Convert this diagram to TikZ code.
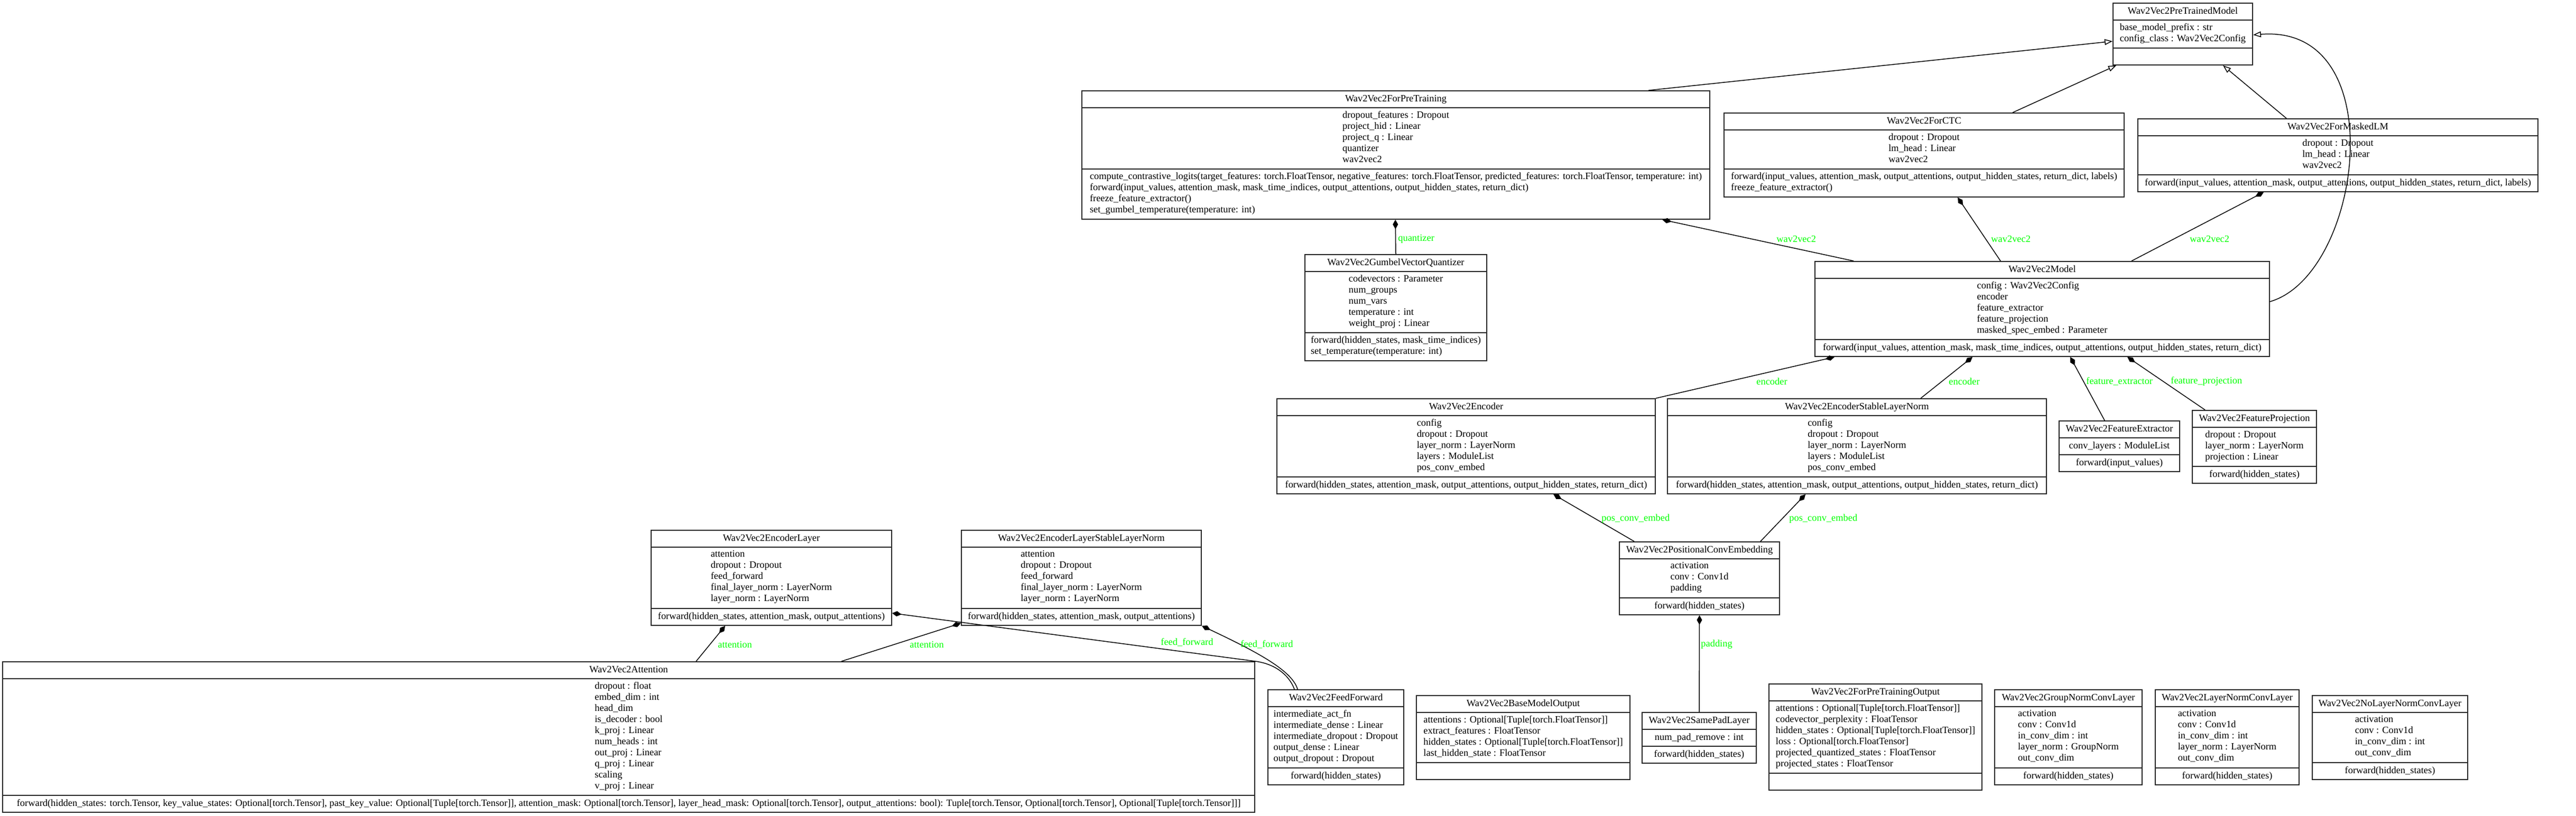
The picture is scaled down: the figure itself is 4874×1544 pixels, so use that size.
\documentclass[tikz,border=0pt]{standalone}
\usepackage{fontspec}
\setmainfont{Liberation Serif}
\usetikzlibrary{arrows.meta,calc,fit}
\definecolor{lblgreen}{RGB}{0,255,0}
\newcommand\cfont{\fontsize{9.2}{10.5}\selectfont}
\tikzset{
 clsbox/.style={draw=black!85, line width=0.9pt, fill=white, inner sep=0pt},
 sepline/.style={draw=black!85, line width=0.9pt},
 ctext/.style={font=\cfont, align=left, inner sep=0pt, execute at begin node=\strut, execute at end node=\strut},
 elabel/.style={font=\cfont, text=lblgreen, inner sep=0pt, anchor=west},
 conn/.style={draw=black, line width=0.75pt},
 inherit/.style={conn, -{Triangle[open, length=7.5pt, width=5.5pt]}},
 compose/.style={conn, {Diamond[length=9pt, width=5pt]}-},
}
\newcommand\umlclass[9]{%
 \pgfmathsetmacro\uha{ifthenelse(#5==0,32,21*#5+11)}%
 \pgfmathsetmacro\uhm{ifthenelse(#6==0,32,21*#6+11)}%
 \pgfmathsetmacro\uya{#3+32}%
 \pgfmathsetmacro\uym{#3+32+\uha}%
 \pgfmathsetmacro\uyb{\uym+\uhm}%
 \pgfmathsetmacro\uxc{(#2+#4)/2}%
 \pgfmathsetmacro\uyt{#3+16}%
 \pgfmathsetmacro\uyac{(\uya+\uym)/2}%
 \pgfmathsetmacro\uymc{(\uym+\uyb)/2}%
 \coordinate (#1-nw) at (#2,#3);
 \coordinate (#1-se) at (#4,\uyb);
 \node[clsbox, fit=(#1-nw)(#1-se)] (#1) {};
 \draw[sepline] (#2,\uya) -- (#4,\uya);
 \draw[sepline] (#2,\uym) -- (#4,\uym);
 \node[ctext] (#1-t) at (\uxc,\uyt) {#7};
 \node[ctext] (#1-a) at (\uxc,\uyac) {#8};
 \node[ctext] (#1-m) at (\uxc,\uymc) {#9};
}
\begin{document}
\begin{tikzpicture}[x=0.5pt,y=-0.5pt]
\fill[white] (0,0) rectangle (4874,1544);
\useasboundingbox (0,0) rectangle (4874,1544);

\umlclass{ptm}{3998}{6}{4262}{2}{0}{Wav2Vec2PreTrainedModel}{base\_model\_prefix : str\\config\_class : Wav2Vec2Config}{}

\umlclass{fpt}{2047}{172}{3235}{5}{4}{Wav2Vec2ForPreTraining}{dropout\_features : Dropout\\project\_hid : Linear\\project\_q : Linear\\quantizer\\wav2vec2}{compute\_contrastive\_logits(target\_features: torch.FloatTensor, negative\_features: torch.FloatTensor, predicted\_features: torch.FloatTensor, temperature: int)\\forward(input\_values, attention\_mask, mask\_time\_indices, output\_attentions, output\_hidden\_states, return\_dict)\\freeze\_feature\_extractor()\\set\_gumbel\_temperature(temperature: int)}

\umlclass{ctc}{3262}{214}{4019}{3}{2}{Wav2Vec2ForCTC}{dropout : Dropout\\lm\_head : Linear\\wav2vec2}{forward(input\_values, attention\_mask, output\_attentions, output\_hidden\_states, return\_dict, labels)\\freeze\_feature\_extractor()}

\umlclass{mlm}{4045}{225}{4802}{3}{1}{Wav2Vec2ForMaskedLM}{dropout : Dropout\\lm\_head : Linear\\wav2vec2}{forward(input\_values, attention\_mask, output\_attentions, output\_hidden\_states, return\_dict, labels)}

\umlclass{gvq}{2469}{482}{2813}{5}{2}{Wav2Vec2GumbelVectorQuantizer}{codevectors : Parameter\\num\_groups\\num\_vars\\temperature : int\\weight\_proj : Linear}{forward(hidden\_states, mask\_time\_indices)\\set\_temperature(temperature: int)}

\umlclass{mdl}{3434}{495}{4294}{5}{1}{Wav2Vec2Model}{config : Wav2Vec2Config\\encoder\\feature\_extractor\\feature\_projection\\masked\_spec\_embed : Parameter}{forward(input\_values, attention\_mask, mask\_time\_indices, output\_attentions, output\_hidden\_states, return\_dict)}

\umlclass{enc}{2416}{755}{3132}{5}{1}{Wav2Vec2Encoder}{config\\dropout : Dropout\\layer\_norm : LayerNorm\\layers : ModuleList\\pos\_conv\_embed}{forward(hidden\_states, attention\_mask, output\_attentions, output\_hidden\_states, return\_dict)}

\umlclass{ens}{3155}{755}{3872}{5}{1}{Wav2Vec2EncoderStableLayerNorm}{config\\dropout : Dropout\\layer\_norm : LayerNorm\\layers : ModuleList\\pos\_conv\_embed}{forward(hidden\_states, attention\_mask, output\_attentions, output\_hidden\_states, return\_dict)}

\umlclass{fex}{3896}{797}{4124}{1}{1}{Wav2Vec2FeatureExtractor}{conv\_layers : ModuleList}{forward(input\_values)}

\umlclass{fpj}{4148}{777}{4383}{3}{1}{Wav2Vec2FeatureProjection}{dropout : Dropout\\layer\_norm : LayerNorm\\projection : Linear}{forward(hidden\_states)}

\umlclass{enl}{1232}{1004}{1687}{5}{1}{Wav2Vec2EncoderLayer}{attention\\dropout : Dropout\\feed\_forward\\final\_layer\_norm : LayerNorm\\layer\_norm : LayerNorm}{forward(hidden\_states, attention\_mask, output\_attentions)}

\umlclass{els}{1819}{1004}{2273}{5}{1}{Wav2Vec2EncoderLayerStableLayerNorm}{attention\\dropout : Dropout\\feed\_forward\\final\_layer\_norm : LayerNorm\\layer\_norm : LayerNorm}{forward(hidden\_states, attention\_mask, output\_attentions)}

\umlclass{pce}{3064}{1026}{3367}{3}{1}{Wav2Vec2PositionalConvEmbedding}{activation\\conv : Conv1d\\padding}{forward(hidden\_states)}

\umlclass{att}{5}{1253}{2374}{10}{1}{Wav2Vec2Attention}{dropout : float\\embed\_dim : int\\head\_dim\\is\_decoder : bool\\k\_proj : Linear\\num\_heads : int\\out\_proj : Linear\\q\_proj : Linear\\scaling\\v\_proj : Linear}{forward(hidden\_states: torch.Tensor, key\_value\_states: Optional[torch.Tensor], past\_key\_value: Optional[Tuple[torch.Tensor]], attention\_mask: Optional[torch.Tensor], layer\_head\_mask: Optional[torch.Tensor], output\_attentions: bool): Tuple[torch.Tensor, Optional[torch.Tensor], Optional[Tuple[torch.Tensor]]]}

\umlclass{ffw}{2399}{1306}{2656}{5}{1}{Wav2Vec2FeedForward}{intermediate\_act\_fn\\intermediate\_dense : Linear\\intermediate\_dropout : Dropout\\output\_dense : Linear\\output\_dropout : Dropout}{forward(hidden\_states)}

\umlclass{bmo}{2680}{1317}{3084}{4}{0}{Wav2Vec2BaseModelOutput}{attentions : Optional[Tuple[torch.FloatTensor]]\\extract\_features : FloatTensor\\hidden\_states : Optional[Tuple[torch.FloatTensor]]\\last\_hidden\_state : FloatTensor}{}

\umlclass{spl}{3107}{1349}{3323}{1}{1}{Wav2Vec2SamePadLayer}{num\_pad\_remove : int}{forward(hidden\_states)}

\umlclass{pto}{3347}{1295}{3750}{6}{0}{Wav2Vec2ForPreTrainingOutput}{attentions : Optional[Tuple[torch.FloatTensor]]\\codevector\_perplexity : FloatTensor\\hidden\_states : Optional[Tuple[torch.FloatTensor]]\\loss : Optional[torch.FloatTensor]\\projected\_quantized\_states : FloatTensor\\projected\_states : FloatTensor}{}

\umlclass{gnc}{3774}{1306}{4053}{5}{1}{Wav2Vec2GroupNormConvLayer}{activation\\conv : Conv1d\\in\_conv\_dim : int\\layer\_norm : GroupNorm\\out\_conv\_dim}{forward(hidden\_states)}

\umlclass{lnc}{4078}{1306}{4350}{5}{1}{Wav2Vec2LayerNormConvLayer}{activation\\conv : Conv1d\\in\_conv\_dim : int\\layer\_norm : LayerNorm\\out\_conv\_dim}{forward(hidden\_states)}

\umlclass{nlc}{4375}{1317}{4669}{4}{1}{Wav2Vec2NoLayerNormConvLayer}{activation\\conv : Conv1d\\in\_conv\_dim : int\\out\_conv\_dim}{forward(hidden\_states)}

% inheritance
\draw[inherit] ($(fpt.north west)+(1073,0)$) -- ($(ptm.north west)+(0,73)$);
\draw[inherit] ($(ctc.north west)+(547,0)$) -- ($(ptm.south west)+(7,0)$);
\draw[inherit] ($(mlm.north west)+(282,0)$) -- ($(ptm.south west)+(209,0)$);
\draw[inherit] ($(mdl.north east)+(0,77)$) .. controls (4470,520) and (4530,45) .. ($(ptm.north east)+(0,61)$);

% composition
\draw[compose] ($(fpt.south west)+(594,0)$) -- (gvq.north);
\node[elabel] (l1) at (2645,452) {quantizer};
\draw[compose] ($(fpt.south west)+(1099,0)$) -- ($(mdl.north west)+(74,0)$);
\node[elabel] (l2) at (3361,452) {wav2vec2};
\draw[compose] ($(ctc.south west)+(443,0)$) -- ($(mdl.north west)+(352,0)$);
\node[elabel] (l3) at (3767,452) {wav2vec2};
\draw[compose] ($(mlm.south west)+(239,0)$) -- ($(mdl.north west)+(600,0)$);
\node[elabel] (l4) at (4143,452) {wav2vec2};

\draw[compose] ($(mdl.south west)+(38,0)$) -- (enc.north east);
\node[elabel] (l5) at (3323,722) {encoder};
\draw[compose] ($(mdl.south west)+(299,0)$) -- ($(ens.north west)+(480,0)$);
\node[elabel] (l6) at (3687,722) {encoder};
\draw[compose] ($(mdl.south west)+(484,0)$) -- ($(fex.north west)+(87,0)$);
\node[elabel] (l7) at (3947,722) {feature\_extractor};
\draw[compose] ($(mdl.south west)+(592,0)$) -- ($(fpj.north west)+(25,0)$);
\node[elabel] (l8) at (4107,722) {feature\_projection};

\draw[compose] ($(enc.south west)+(524,0)$) -- ($(pce.north west)+(29,0)$);
\node[elabel] (l9) at (3030,982) {pos\_conv\_embed};
\draw[compose] ($(ens.south west)+(262,0)$) -- ($(pce.north east)+(-37,0)$);
\node[elabel] (l10) at (3385,982) {pos\_conv\_embed};
\draw[compose] (pce.south) -- (spl.north);
\node[elabel] (l11) at (3218,1220) {padding};

\draw[compose] ($(enl.south west)+(141,0)$) -- ($(att.north west)+(1313,0)$);
\node[elabel] (l12) at (1358,1220) {attention};
\draw[compose] ($(els.south west)+(0,-5)$) -- ($(att.north west)+(1588,0)$);
\node[elabel] (l13) at (1721,1220) {attention};
\draw[compose] ($(enl.south east)+(0,-24)$) -- (2375,1252) .. controls (2420,1258) and (2442,1285) .. ($(ffw.north west)+(51,0)$);
\node[elabel] (l14) at (2196,1216) {feed\_forward};
\draw[compose] (els.south east) .. controls (2380,1235) and (2445,1270) .. ($(ffw.north west)+(57,0)$);
\node[elabel] (l15) at (2347,1220) {feed\_forward};
\end{tikzpicture}
\end{document}
